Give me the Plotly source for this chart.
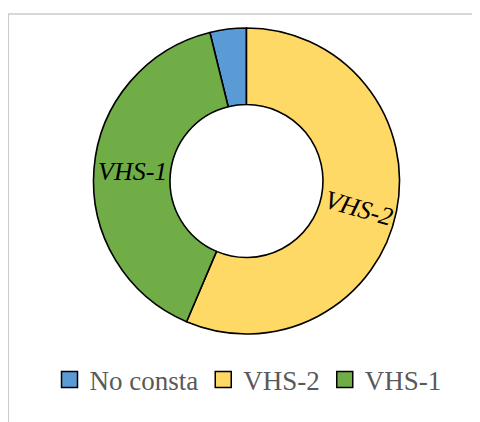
import math
import plotly.graph_objects as go

labels = ["No consta", "VHS-2", "VHS-1"]
values = [3, 44, 31]
colors = ["#5B9BD5", "#FFD966", "#70AD47"]
slice_text = ["", "VHS-2", "VHS-1"]
text_angles = [0, 16, 0]
text_yshift = [0, -5, 0]

W, H = 480, 422
# geometry in figure pixels (page has an 8px body offset)
cx, cy, R = 238.5, 173, 153
hole = 0.5
rotation = -13.85
dom_x = [(cx - R) / W, (cx + R) / W]
dom_y = [(H - cy - R) / H, (H - cy + R) / H]

fig = go.Figure()
fig.add_trace(go.Pie(
    labels=labels, values=values, sort=False, direction="clockwise",
    rotation=rotation, hole=hole, domain=dict(x=dom_x, y=dom_y),
    textinfo="none",
    marker=dict(colors=colors, line=dict(color="#000000", width=1.6)),
    showlegend=False, hoverinfo="label+value",
))

# legend entries with larger square symbols
for lab, col in zip(labels, colors):
    fig.add_trace(go.Scatter(
        x=[None], y=[None], mode="markers", name=lab,
        marker=dict(symbol="square", size=16, color=col, line=dict(color="#000000", width=1.5)),
        hoverinfo="skip",
    ))

# slice labels placed at the middle of each slice's ring
total = sum(values)
start = rotation
annotations = []
rm = R * (1 + hole) / 2
for v, t, ang, ys in zip(values, slice_text, text_angles, text_yshift):
    span = 360 * v / total
    mid = math.radians(start + span / 2)
    start += span
    if not t:
        continue
    px = cx + rm * math.sin(mid)
    py = cy - rm * math.cos(mid)
    annotations.append(dict(
        x=px / W, y=(H - py) / H, xref="paper", yref="paper",
        text=t, showarrow=False, textangle=ang, yshift=ys,
        xanchor="center", yanchor="middle",
        font=dict(family="Liberation Serif", size=26, color="#000000", style="italic"),
    ))

fig.update_layout(
    width=W, height=H,
    margin=dict(l=0, r=0, t=0, b=0),
    paper_bgcolor="white", plot_bgcolor="white",
    xaxis=dict(visible=False), yaxis=dict(visible=False),
    showlegend=True,
    legend=dict(
        orientation="h", x=0.5, xanchor="center", y=(H - 372) / H, yanchor="middle",
        font=dict(family="Liberation Serif", size=27, color="#595959"),
        bgcolor="rgba(0,0,0,0)",
    ),
    annotations=annotations,
    shapes=[dict(
        type="rect", xref="paper", yref="paper",
        x0=0.3 / W, x1=1.2, y0=-0.2, y1=(H - 6) / H,
        line=dict(color="#CCCCCC", width=1.5), fillcolor="rgba(0,0,0,0)", layer="below",
    )],
)

fig.write_html("out.html")
